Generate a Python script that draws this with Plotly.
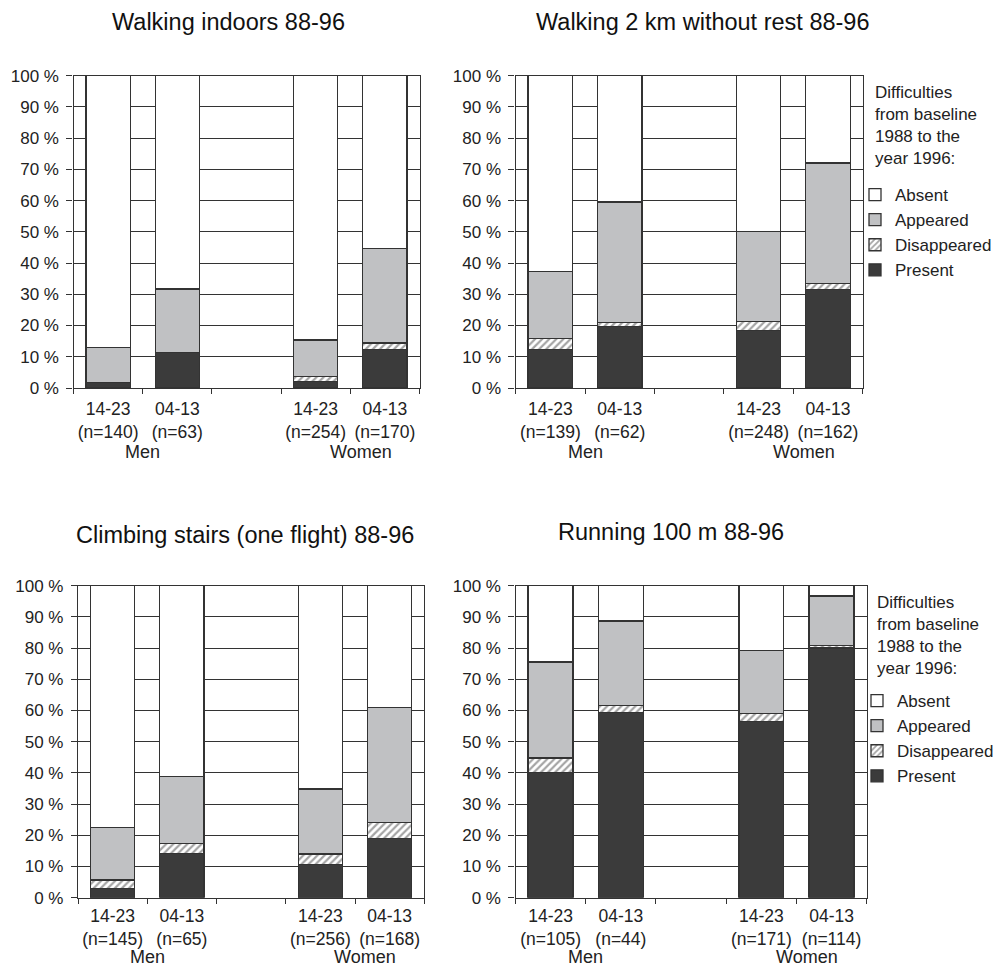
import plotly.graph_objects as go

# ---------------- data ----------------
titles = ["Walking indoors 88-96", "Walking 2 km without rest 88-96",
          "Climbing stairs (one flight) 88-96", "Running 100 m 88-96"]
age_groups = ["14-23", "04-13", "14-23", "04-13"]
bar_pos = [1, 2, 4, 5]
sex_labels = ["Men", "Women"]
sex_pos = [1.5, 4.65]
y_ticks = [0, 10, 20, 30, 40, 50, 60, 70, 80, 90, 100]
y_ticktext = ["0 %", "10 %", "20 %", "30 %", "40 %", "50 %", "60 %", "70 %", "80 %", "90 %", "100 %"]
series_names = ["Present", "Disappeared", "Appeared", "Absent"]
legend_heading = "Difficulties<br>from baseline<br>1988 to the<br>year 1996:"

n_walk_indoors = [140, 63, 254, 170]
present_walk_indoors = [1.7, 11.3, 2.1, 12.4]
disappeared_walk_indoors = [0.0, 0.0, 1.6, 2.0]
appeared_walk_indoors = [11.2, 20.4, 11.7, 30.2]
absent_walk_indoors = [87.1, 68.3, 84.6, 55.4]

n_walk_2km = [139, 62, 248, 162]
present_walk_2km = [12.4, 19.6, 18.5, 31.5]
disappeared_walk_2km = [3.4, 1.3, 2.9, 1.9]
appeared_walk_2km = [21.6, 38.7, 28.8, 38.6]
absent_walk_2km = [62.6, 40.4, 49.8, 28.0]

n_stairs = [145, 65, 256, 168]
present_stairs = [3.0, 14.1, 10.6, 18.9]
disappeared_stairs = [2.7, 3.2, 3.4, 5.1]
appeared_stairs = [16.8, 21.5, 20.8, 36.9]
absent_stairs = [77.5, 61.2, 65.2, 39.1]

n_running = [105, 44, 171, 114]
present_running = [40.1, 59.3, 56.4, 80.0]
disappeared_running = [4.7, 2.2, 2.6, 0.8]
appeared_running = [30.7, 27.2, 20.2, 15.9]
absent_running = [24.5, 11.3, 20.8, 3.3]

# ---------------- style ----------------
FONT = "Arial, Liberation Sans, sans-serif"
LINE = "#333333"
TXT = "#222222"
fills = {"Present": "#3b3b3b", "Disappeared": "#ffffff", "Appeared": "#c0c1c3", "Absent": "#ffffff"}

panels = [
    (n_walk_indoors, [present_walk_indoors, disappeared_walk_indoors, appeared_walk_indoors, absent_walk_indoors]),
    (n_walk_2km, [present_walk_2km, disappeared_walk_2km, appeared_walk_2km, absent_walk_2km]),
    (n_stairs, [present_stairs, disappeared_stairs, appeared_stairs, absent_stairs]),
    (n_running, [present_running, disappeared_running, appeared_running, absent_running]),
]

# page body has an 8px margin: figure is sized/offset so window pixels match
OFF = 8
W, H = 1001 - OFF, 967 - OFF


def px_x(p):
    return (p - OFF) / W


def px_y(p):
    return 1 - (p - OFF) / H


# window-pixel boxes of plot areas (left, right, top, bottom)
boxes = [(73.5, 419.5, 75.7, 388), (515.6, 862.7, 75.7, 388),
         (78, 424.3, 585.7, 897.7), (515.5, 866.7, 585.7, 897.7)]
title_xy = [(228, 22), (703, 22), (245, 535), (671, 532)]
sex_y = [-0.205, -0.205, -0.19, -0.19]
x_standoff = [5, 5, 2, 2]

fig = go.Figure()
layout = dict(width=W, height=H, margin=dict(l=0, r=0, t=0, b=0, autoexpand=False),
              plot_bgcolor="white", paper_bgcolor="white", barmode="stack",
              font=dict(family=FONT, color=TXT, size=17))
annotations = []

for i, (ns, vals) in enumerate(panels):
    k = "" if i == 0 else str(i + 1)
    xa, ya = "x" + k, "y" + k
    for name, v in zip(series_names, vals):
        marker = dict(color=fills[name], line=dict(color=LINE, width=1.3))
        if name == "Disappeared":
            marker["pattern"] = dict(shape="/", fgcolor="#4a4a4a", bgcolor="white", size=5, solidity=0.45)
        tr = dict(x=bar_pos, y=v, name=name, marker=marker, xaxis=xa, yaxis=ya,
                  showlegend=(i in (1, 3)), hoverinfo="skip", width=0.64)
        if i == 3:
            tr["legend"] = "legend2"
        fig.add_trace(go.Bar(**tr))
    l, r, t, b = boxes[i]
    xdom = [px_x(l), px_x(r)]
    ydom = [px_y(b), px_y(t)]
    layout["xaxis" + k] = dict(domain=xdom, anchor=ya, range=[0.5, 5.5],
                               tickvals=bar_pos,
                               ticktext=[f"{a}<br>(n={n})" for a, n in zip(age_groups, ns)],
                               ticks="", ticklen=0, showline=True, linecolor=LINE, linewidth=1.3,
                               mirror=True, showgrid=False, zeroline=False, automargin=False,
                               tickfont=dict(size=17.5, color=TXT), ticklabelstandoff=x_standoff[i],
                               minor=dict(tickvals=[0.5, 1.5, 2.5, 3.5, 4.5, 5.5], ticks="outside",
                                          ticklen=5, tickcolor=LINE, tickwidth=1.3, showgrid=False),
                               fixedrange=True)
    layout["yaxis" + k] = dict(domain=ydom, anchor=xa, range=[0, 100], tickvals=y_ticks,
                               ticktext=y_ticktext, ticks="outside", ticklen=6, tickcolor=LINE,
                               tickwidth=1.3, showline=True, linecolor=LINE, linewidth=1.3, mirror=True,
                               showgrid=True, gridcolor=LINE, gridwidth=1.3, zeroline=False,
                               automargin=False,
                               tickfont=dict(size=17, color=TXT), ticklabelstandoff=4,
                               fixedrange=True)
    for s, sp in zip(sex_labels, sex_pos):
        annotations.append(dict(text=s, x=sp, y=sex_y[i], xref=xa, yref=ya + " domain",
                                showarrow=False, font=dict(size=18, color=TXT),
                                xanchor="center", yanchor="middle"))
    tx, ty = title_xy[i]
    annotations.append(dict(text=titles[i], x=px_x(tx), y=px_y(ty), xref="paper", yref="paper",
                            showarrow=False, font=dict(size=23.5, color="#111111"),
                            xanchor="center", yanchor="middle"))

# legend headings (top-left x, top y in window pixels) and legend boxes
for hx, hy in [(874, 82), (876, 592)]:
    annotations.append(dict(text=legend_heading, x=px_x(hx), y=px_y(hy), xref="paper", yref="paper",
                            showarrow=False, align="left", xanchor="left", yanchor="top",
                            font=dict(size=17, color=TXT), borderpad=0))

for key, (lx, ly) in {"legend": (855, 177), "legend2": (857, 683)}.items():
    layout[key] = dict(x=px_x(lx), y=px_y(ly), xanchor="left", yanchor="top",
                       traceorder="reversed", bgcolor="rgba(0,0,0,0)",
                       font=dict(size=17, color=TXT), itemwidth=30,
                       tracegroupgap=0, itemclick=False, itemdoubleclick=False)

layout["annotations"] = annotations
fig.update_layout(**layout)
fig.write_html("out.html")
